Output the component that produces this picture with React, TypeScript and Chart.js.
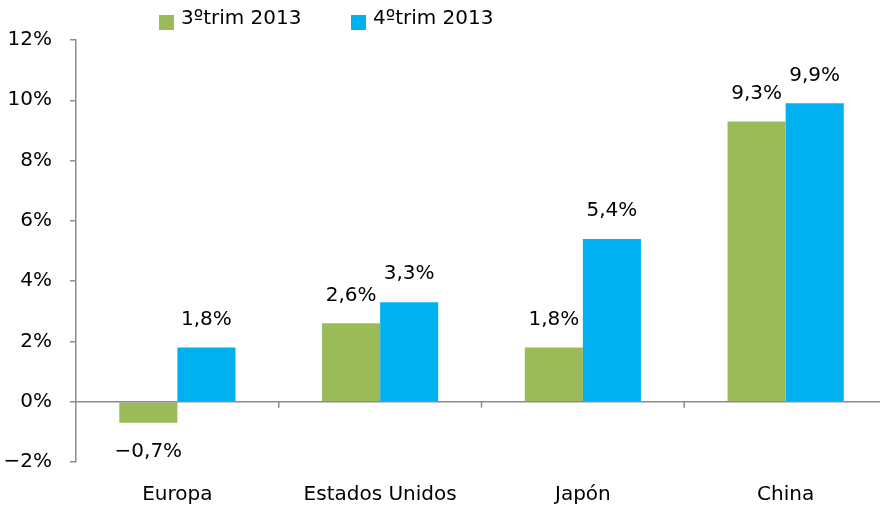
import React, { useEffect, useRef } from "react";
import { Chart, registerables } from "chart.js";
Chart.register(...registerables);

const categories = ["Europa", "Estados Unidos", "Japón", "China"];
const q3Values = [-0.7, 2.6, 1.8, 9.3];
const q4Values = [1.8, 3.3, 5.4, 9.9];
const seriesNames = ["3ºtrim 2013", "4ºtrim 2013"];
const seriesColors = ["#9BBB59", "#00B0F0"];
const yMin = -2;
const yMax = 12;
const yStep = 2;

const FONT = "'DejaVu Sans', sans-serif";
const FS = 20;
const AXIS = "#8c8c8c";

const fmt = (v: number) =>
  (v < 0 ? "\u2212" : "") + Math.abs(v).toFixed(1).replace(".", ",") + "%";

const extras = {
  id: "extras",
  afterDatasetsDraw(chart: any) {
    const ctx = chart.ctx;
    const area = chart.chartArea;
    const ys = chart.scales.y;
    const xs = chart.scales.x;
    const y0 = ys.getPixelForValue(0);
    ctx.save();
    // zero line
    ctx.strokeStyle = AXIS;
    ctx.lineWidth = 1.5;
    ctx.beginPath();
    ctx.moveTo(area.left, y0);
    ctx.lineTo(area.right, y0);
    ctx.stroke();
    // category boundary ticks
    for (let i = 1; i < categories.length; i++) {
      const x = (xs.getPixelForValue(i - 1) + xs.getPixelForValue(i)) / 2;
      ctx.beginPath();
      ctx.moveTo(x, y0);
      ctx.lineTo(x, y0 + 6);
      ctx.stroke();
    }
    // data labels
    ctx.fillStyle = "#000";
    ctx.font = `${FS}px ${FONT}`;
    ctx.textAlign = "center";
    ctx.textBaseline = "middle";
    chart.data.datasets.forEach((ds: any, di: number) => {
      const meta = chart.getDatasetMeta(di);
      meta.data.forEach((el: any, i: number) => {
        const v = ds.data[i];
        const y = v >= 0 ? el.y - 28 : el.y + 29;
        ctx.fillText(fmt(v), el.x, y);
      });
    });
    // legend
    const lx = [area.left + 83, area.left + 275];
    seriesNames.forEach((name, i) => {
      ctx.fillStyle = seriesColors[i];
      ctx.fillRect(lx[i], 15, 15, 15);
      ctx.fillStyle = "#000";
      ctx.textAlign = "left";
      ctx.fillText(name, lx[i] + 22, 19);
    });
    ctx.restore();
  },
};

export default function App() {
  const ref = useRef<HTMLCanvasElement | null>(null);
  useEffect(() => {
    if (!ref.current) return;
    const chart = new Chart(ref.current, {
      type: "bar",
      data: {
        labels: categories,
        datasets: [
          {
            label: seriesNames[0],
            data: q3Values,
            backgroundColor: seriesColors[0],
            categoryPercentage: 0.573,
            barPercentage: 1,
          },
          {
            label: seriesNames[1],
            data: q4Values,
            backgroundColor: seriesColors[1],
            categoryPercentage: 0.573,
            barPercentage: 1,
          },
        ],
      },
      options: {
        responsive: false,
        animation: false,
        layout: { padding: { top: 40, right: 3, left: 0, bottom: 0 } },
        plugins: {
          legend: { display: false },
          tooltip: { enabled: false },
        },
        scales: {
          x: {
            grid: { display: false },
            border: { display: false },
            ticks: {
              color: "#000",
              font: { family: FONT, size: FS },
              padding: 13,
            },
            afterFit: (s: any) => {
              s.height = 44;
            },
          },
          y: {
            min: yMin,
            max: yMax,
            ticks: {
              stepSize: yStep,
              color: "#000",
              font: { family: FONT, size: FS },
              padding: 18,
              callback: (v: any) => fmt(Number(v)).replace(",0", ""),
            },
            grid: {
              drawOnChartArea: false,
              drawTicks: true,
              tickLength: 6,
              color: AXIS,
              lineWidth: 1.5,
            },
            border: { display: true, color: AXIS, width: 1.5 },
            afterFit: (s: any) => {
              s.width = 76;
            },
          },
        },
      },
      plugins: [extras],
    });
    return () => chart.destroy();
  }, []);
  return (
    <div
      style={{
        position: "fixed",
        left: 0,
        top: 0,
        width: 880,
        height: 506,
        overflow: "hidden",
        background: "#fff",
      }}
    >
      <canvas ref={ref} width={890} height={506} style={{ display: "block" }} />
    </div>
  );
}
